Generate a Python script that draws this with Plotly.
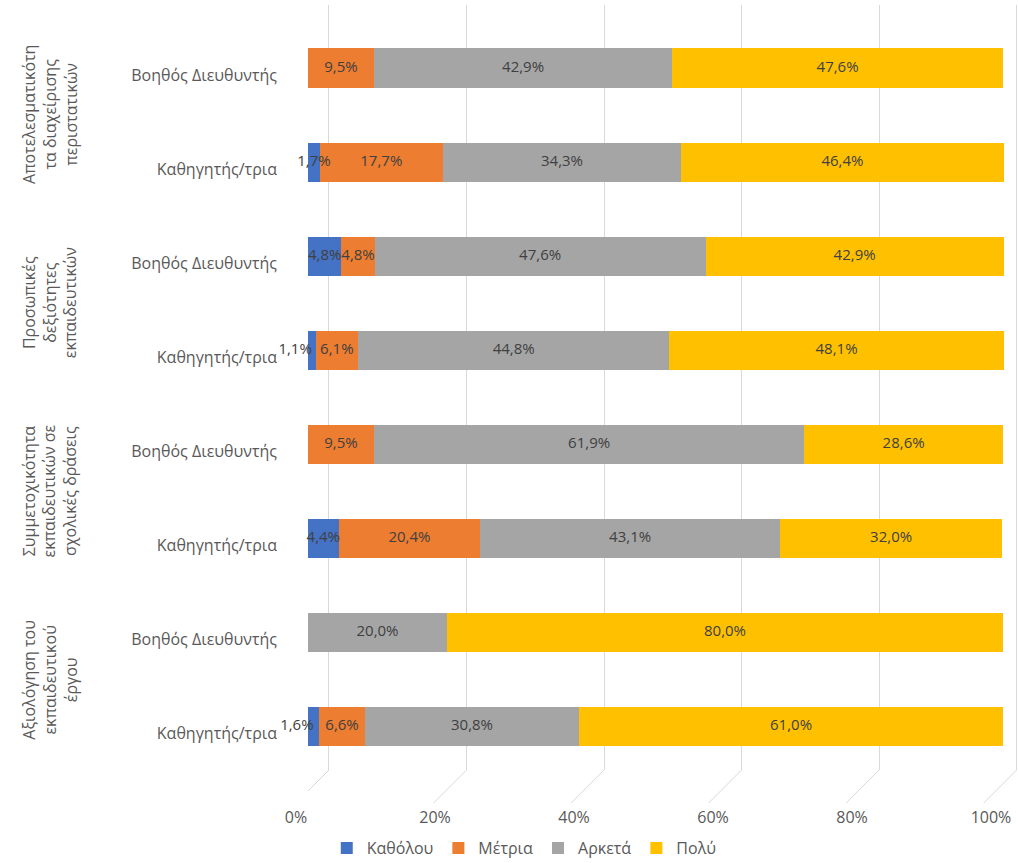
import plotly.graph_objects as go

# Survey categories (outer groups) and respondent roles (inner rows)
groups = [
    "Αποτελεσματικότη<br>τα διαχείρισης<br>περιστατικών",
    "Προσωπικές<br>δεξιότητες<br>εκπαιδευτικών",
    "Συμμετοχικότητα<br>εκπαιδευτικών σε<br>σχολικές δράσεις",
    "Αξιολόγηση του<br>εκπαιδευτικού<br>έργου",
]
roles = ["Βοηθός Διευθυντής", "Καθηγητής/τρια"]

# Percentages per row (top to bottom: group 1 ΒΔ, group 1 Κ, group 2 ΒΔ, ...)
katholou = [0.0, 1.7, 4.8, 1.1, 0.0, 4.4, 0.0, 1.6]
metria = [9.5, 17.7, 4.8, 6.1, 9.5, 20.4, 0.0, 6.6]
arketa = [42.9, 34.3, 47.6, 44.8, 61.9, 43.1, 20.0, 30.8]
poly = [47.6, 46.4, 42.9, 48.1, 28.6, 32.0, 80.0, 61.0]

series_names = ["Καθόλου", "Μέτρια", "Αρκετά", "Πολύ"]
series_values = [katholou, metria, arketa, poly]
colors = ["#4472C4", "#ED7D31", "#A5A5A5", "#FFC000"]

x_ticks = [0, 20, 40, 60, 80, 100]

W, H = 1018, 863
FONT = "Open Sans"
TXT = "#595959"
row_pos = list(range(len(roles) * len(groups)))
row_labels = [roles[i % 2] for i in row_pos]


def fmt(v):
    return (f"{v:.1f}%".replace(".", ",")) if v > 0 else ""


fig = go.Figure()
for name, vals, col in zip(series_names, series_values, colors):
    fig.add_trace(go.Bar(
        y=row_pos, x=vals, name=name, orientation="h",
        marker=dict(color=col, line=dict(width=0)),
        width=0.415, hoverinfo="skip",
    ))

# Value labels drawn above all segments; a very thin segment followed by
# another thin one gets its label pushed left so the two do not collide
lab_x, lab_y, lab_t, lab_pos = [], [], [], []
for r in row_pos:
    left = 0.0
    row_vals = [vals[r] for vals in series_values]
    for k, v in enumerate(row_vals):
        if v > 0:
            nxt = row_vals[k + 1] if k + 1 < len(row_vals) else 100
            lab_x.append(left + v / 2)
            lab_y.append(r)
            lab_t.append(fmt(v))
            lab_pos.append("middle left" if (v < 3 and nxt < 8)
                           else "middle center")
        left += v
fig.add_trace(go.Scatter(
    x=lab_x, y=lab_y, text=lab_t, mode="text", showlegend=False,
    textposition=lab_pos, hoverinfo="skip", cliponaxis=False,
    textfont=dict(size=15, color="#404040", family=FONT),
))

# Back-wall grid lines on a companion axis
fig.add_trace(go.Scatter(x=[None], y=[None], xaxis="x2", showlegend=False,
                         hoverinfo="skip"))

# pixel geometry
plot_x0, plot_x1 = 308, 1018
bar_px_per_unit = 6.95
back_x0, px_per_unit = 329, 6.89
front_shift = -33
y_top_px, y_bot_px = 5, 770
row0_px, row_pitch = 68, 94.1

x_range = [0, (plot_x1 - plot_x0) / bar_px_per_unit]
x2_r0 = -(back_x0 - plot_x0) / px_per_unit
x2_r1 = x2_r0 + (plot_x1 - plot_x0) / px_per_unit + 0.2

# slanted floor lines from the back wall to the front edge
for t in x_ticks:
    fig.add_shape(type="line", xref="x2", yref="paper",
                  x0=t, y0=1 - y_bot_px / H,
                  x1=t + front_shift / px_per_unit, y1=1 - 803 / H,
                  line=dict(color="#D9D9D9", width=1), layer="below")

# outer group labels, rotated
for gi, g in enumerate(groups):
    fig.add_annotation(
        text=g, xref="paper", yref="y", x=50 / W, y=gi * 2 + 0.5,
        xanchor="center", yanchor="middle",
        textangle=-90, showarrow=False, align="center",
        font=dict(size=16, color=TXT, family=FONT),
    )

fig.update_layout(
    width=W, height=H, barmode="stack",
    margin=dict(l=0, r=0, t=0, b=0, autoexpand=False),
    paper_bgcolor="white", plot_bgcolor="rgba(0,0,0,0)",
    font=dict(family=FONT, color=TXT, size=16),
    xaxis=dict(
        domain=[plot_x0 / W, plot_x1 / W], range=x_range,
        tickvals=x_ticks, ticktext=[f"{t}%" for t in x_ticks],
        showgrid=False, zeroline=False, showline=False, ticks="",
        ticklabelshift=-12, ticklabelstandoff=36, automargin=False,
        tickfont=dict(size=16, color=TXT),
    ),
    xaxis2=dict(
        range=[x2_r0, x2_r1], overlaying="x",
        tickvals=x_ticks, showticklabels=False, showgrid=True,
        gridcolor="#D9D9D9", gridwidth=1, zeroline=False, showline=False,
        automargin=False,
    ),
    yaxis=dict(
        domain=[1 - y_bot_px / H, 1 - y_top_px / H],
        range=[(y_bot_px - row0_px) / row_pitch, (y_top_px - row0_px) / row_pitch],
        tickvals=row_pos, ticktext=row_labels,
        showgrid=False, zeroline=False, showline=False, ticks="",
        ticklabelshift=-7, ticklabelstandoff=30, automargin=False,
        tickfont=dict(size=16, color=TXT),
    ),
    legend=dict(
        orientation="h", x=0.515, xanchor="center", y=1 - 848 / H,
        yanchor="middle", font=dict(size=16, color=TXT),
        itemwidth=30, traceorder="normal",
    ),
)

fig.write_html("out.html")
